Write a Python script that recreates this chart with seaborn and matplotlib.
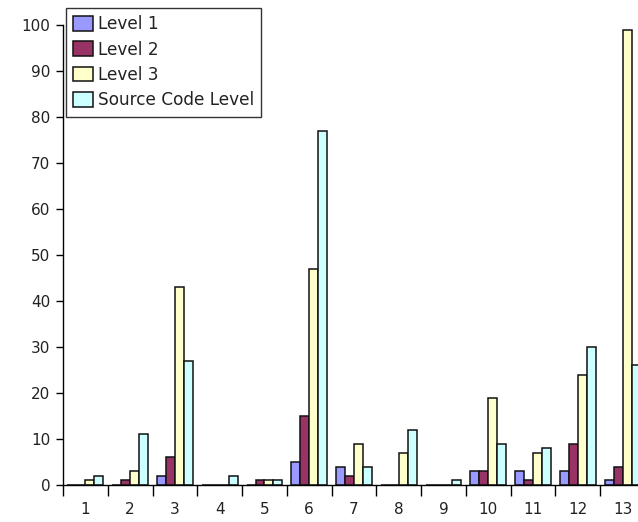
import numpy as np
import pandas as pd
import seaborn as sns
import matplotlib.pyplot as plt

# values
groups = [str(i) for i in range(1, 14)]
level1 = [0, 0, 2, 0, 0, 5, 4, 0, 0, 3, 3, 3, 1]
level2 = [0, 1, 6, 0, 1, 15, 2, 0, 0, 3, 1, 9, 4]
level3 = [1, 3, 43, 0, 1, 47, 9, 7, 0, 19, 7, 24, 99]
source_code = [2, 11, 27, 2, 1, 77, 4, 12, 1, 9, 8, 30, 26]
series = ['Level 1', 'Level 2', 'Level 3', 'Source Code Level']
colors = ['#9999FF', '#993366', '#FFFFCC', '#CCFFFF']

df = pd.DataFrame({
    'group': groups * 4,
    'series': np.repeat(series, len(groups)),
    'value': level1 + level2 + level3 + source_code,
})

sns.set_style('white')
plt.rcParams['font.family'] = ['DejaVu Sans']

fig = plt.figure(figsize=(6.38, 5.22), dpi=100)
ax = fig.add_axes([63 / 638, 37 / 522, 582 / 638, 460 / 522])

sns.barplot(data=df, x='group', y='value', hue='series', order=groups,
            hue_order=series, palette=colors, width=0.8, edgecolor='#111111',
            linewidth=1.1, saturation=1, ax=ax)

ax.set_xlim(-0.5, 12.5)
ax.set_ylim(0, 100)
ax.set_yticks(range(0, 101, 10))
ax.set_xlabel('')
ax.set_ylabel('')
sns.despine(ax=ax)
for s in ['left', 'bottom']:
    ax.spines[s].set_color('black')
    ax.spines[s].set_linewidth(1)

# tick marks between groups, labels at group centres
ax.set_xticks(np.arange(-0.5, 13, 1))
ax.set_xticklabels([])
ax.set_xticks(range(13), minor=True)
ax.set_xticklabels(groups, minor=True)
ax.tick_params(axis='x', which='major', direction='out', length=8, width=1, color='black', bottom=True)
ax.tick_params(axis='x', which='minor', length=0, pad=12, labelsize=11, labelcolor='#222222')
ax.tick_params(axis='y', direction='out', length=5, width=1, color='black', left=True,
               labelsize=11, labelcolor='#222222', pad=4)

leg = ax.legend(loc='upper left', bbox_to_anchor=(0.005, 1.037), fontsize=12.2,
                frameon=True, fancybox=False, handlelength=1.15, handleheight=0.95,
                handletextpad=0.3, labelspacing=0.44, borderpad=0.42, borderaxespad=0)
leg.get_frame().set_edgecolor('black')
leg.get_frame().set_linewidth(1)
for t in leg.get_texts():
    t.set_color('#222222')

fig.savefig('out.png', dpi=100)
